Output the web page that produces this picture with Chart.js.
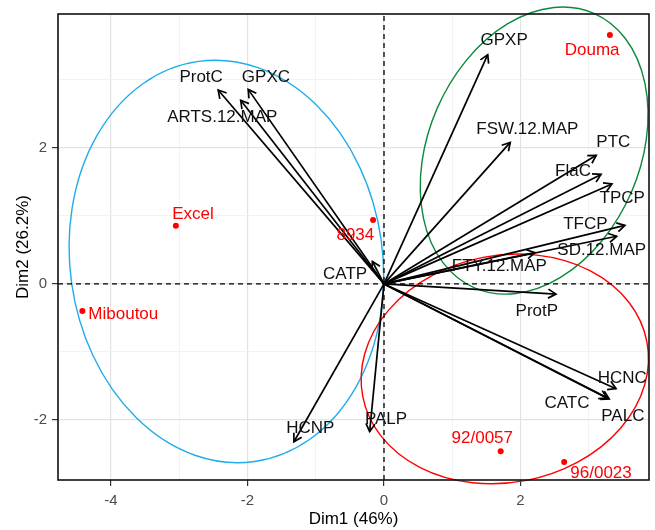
<!DOCTYPE html>
<html lang="en">

<head>
    <meta charset="UTF-8" />
    <title>PCA biplot</title>
    <script src="https://cdn.jsdelivr.net/npm/chart.js@4.4.1/dist/chart.umd.min.js"></script>
    <style>
        body { margin: 0; background: #fff; }
    </style>
</head>

<body>
    <canvas id="biplot" width="655" height="530"></canvas>

    <script>
        // axis limits (Dim1 / Dim2)
        const xMin = -4.777, xMax = 3.883;
        const yMin = -2.883, yMax = 3.968;

        // variables (arrows)
        const varNames = ['ProtC', 'GPXC', 'ARTS.12.MAP', 'CATP', 'GPXP', 'FSW.12.MAP', 'PTC', 'FlaC', 'TPCP',
            'TFCP', 'SD.12.MAP', 'FTY.12.MAP', 'ProtP', 'HCNC', 'CATC', 'PALC', 'PALP', 'HCNP'];
        const varDim1 = [-2.43, -1.99, -2.10, -0.17, 1.52, 1.85, 3.11, 3.18, 3.34, 3.53, 3.41, 2.21, 2.52, 3.40, 3.27, 3.30, -0.21, -1.32];
        const varDim2 = [2.85, 2.86, 2.70, 0.33, 3.37, 2.08, 1.89, 1.61, 1.47, 0.86, 0.70, 0.46, -0.15, -1.54, -1.68, -1.69, -2.17, -2.32];
        // where the (repelled) labels sit
        const varLabDim1 = [-2.68, -1.73, -2.37, -0.57, 1.76, 2.10, 3.36, 2.77, 3.49, 2.95, 3.19, 1.69, 2.24, 3.49, 2.68, 3.50, 0.03, -1.08];
        const varLabDim2 = [3.04, 3.04, 2.45, 0.14, 3.58, 2.27, 2.08, 1.65, 1.26, 0.88, 0.49, 0.26, -0.40, -1.39, -1.75, -1.94, -1.99, -2.13];

        // individuals (red points)
        const indNames = ['Douma', 'Excel', '8934', 'Miboutou', '92/0057', '96/0023'];
        const indDim1 = [3.31, -3.05, -0.16, -4.42, 1.71, 2.64];
        const indDim2 = [3.66, 0.855, 0.94, -0.40, -2.46, -2.62];
        const indLabDim1 = [3.05, -2.80, -0.42, -3.82, 1.44, 3.18];
        const indLabDim2 = [3.43, 1.03, 0.71, -0.44, -2.27, -2.78];

        // group ellipses: centre, semi axes (data units), tilt in degrees
        const ellCx = [-2.31, 2.20, 1.77];
        const ellCy = [0.33, 1.96, -1.25];
        const ellRx = [2.29, 1.55, 2.12];
        const ellRy = [2.97, 2.20, 1.67];
        const ellTilt = [-8, 23.5, -11];
        const ellColors = ['#1FADEB', '#0B8A3A', '#FF0000'];

        const labelFont = '17px "Liberation Sans", Arial, sans-serif';

        // arrow datasets, one per variable
        const arrowSets = varNames.map((name, i) => ({
            label: name,
            data: [{ x: 0, y: 0 }, { x: varDim1[i], y: varDim2[i] }],
            showLine: true,
            borderColor: '#000',
            borderWidth: 1.7,
            pointRadius: 0,
            isArrow: true
        }));

        const biplotPlugin = {
            id: 'biplot',
            beforeDatasetsDraw(chart) {
                const ctx = chart.ctx;
                const xs = chart.scales.x, ys = chart.scales.y;
                ctx.save();
                ctx.lineWidth = 1.4;
                for (let i = 0; i < ellCx.length; i++) {
                    const cx = xs.getPixelForValue(ellCx[i]);
                    const cy = ys.getPixelForValue(ellCy[i]);
                    const rx = xs.getPixelForValue(ellCx[i] + ellRx[i]) - cx;
                    const ry = cy - ys.getPixelForValue(ellCy[i] + ellRy[i]);
                    ctx.beginPath();
                    ctx.ellipse(cx, cy, rx, ry, ellTilt[i] * Math.PI / 180, 0, Math.PI * 2);
                    ctx.strokeStyle = ellColors[i];
                    ctx.stroke();
                }
                ctx.restore();
            },
            afterDatasetsDraw(chart) {
                const ctx = chart.ctx;
                const xs = chart.scales.x, ys = chart.scales.y;
                ctx.save();
                // open arrow heads
                chart.data.datasets.forEach((ds, di) => {
                    if (!ds.isArrow) return;
                    const pts = chart.getDatasetMeta(di).data;
                    const x0 = pts[0].x, y0 = pts[0].y, x1 = pts[1].x, y1 = pts[1].y;
                    const a = Math.atan2(y1 - y0, x1 - x0);
                    const len = 9, spread = Math.PI / 6;
                    ctx.beginPath();
                    ctx.moveTo(x1 - len * Math.cos(a - spread), y1 - len * Math.sin(a - spread));
                    ctx.lineTo(x1, y1);
                    ctx.lineTo(x1 - len * Math.cos(a + spread), y1 - len * Math.sin(a + spread));
                    ctx.strokeStyle = '#000';
                    ctx.lineWidth = 1.7;
                    ctx.stroke();
                });

                // text labels
                ctx.font = labelFont;
                ctx.textAlign = 'center';
                ctx.textBaseline = 'middle';
                ctx.fillStyle = '#111';
                varNames.forEach((n, i) => {
                    ctx.fillText(n, xs.getPixelForValue(varLabDim1[i]), ys.getPixelForValue(varLabDim2[i]));
                });
                ctx.fillStyle = '#FF0000';
                indNames.forEach((n, i) => {
                    ctx.fillText(n, xs.getPixelForValue(indLabDim1[i]), ys.getPixelForValue(indLabDim2[i]));
                });

                // panel border
                const ca = chart.chartArea;
                ctx.strokeStyle = '#111';
                ctx.lineWidth = 1.6;
                ctx.strokeRect(ca.left, ca.top, ca.right - ca.left, ca.bottom - ca.top);
                ctx.restore();
            }
        };

        const gridColor = (c) => (c.tick && c.tick.value % 2 === 0 ? '#E3E3E3' : '#EEEEEE');
        const gridWidth = (c) => (c.tick && c.tick.value % 2 === 0 ? 1.2 : 0.7);
        const tickMarkColor = (c) => (c.tick && c.tick.value % 2 === 0 ? '#333' : 'rgba(0,0,0,0)');

        new Chart(document.getElementById('biplot'), {
            type: 'scatter',
            data: {
                datasets: [
                    {
                        label: 'hline',
                        data: [{ x: xMin, y: 0 }, { x: xMax, y: 0 }],
                        showLine: true, borderColor: '#000', borderWidth: 1.3, borderDash: [5, 4], pointRadius: 0
                    },
                    {
                        label: 'vline',
                        data: [{ x: 0, y: yMin }, { x: 0, y: yMax }],
                        showLine: true, borderColor: '#000', borderWidth: 1.3, borderDash: [5, 4], pointRadius: 0
                    },
                    ...arrowSets,
                    {
                        label: 'individuals',
                        data: indDim1.map((v, i) => ({ x: v, y: indDim2[i] })),
                        pointRadius: 3,
                        pointBackgroundColor: '#FF0000',
                        pointBorderWidth: 0
                    }
                ]
            },
            options: {
                responsive: false,
                animation: false,
                layout: { padding: { top: 9, right: 6, left: 0, bottom: 0 } },
                plugins: { legend: { display: false }, tooltip: { enabled: false } },
                scales: {
                    x: {
                        type: 'linear',
                        min: xMin, max: xMax,
                        afterFit(scale) { scale.height = 50; },
                        border: { display: false },
                        grid: { color: gridColor, lineWidth: gridWidth, tickColor: tickMarkColor, tickLength: 6, tickWidth: 1.2 },
                        ticks: {
                            stepSize: 1, includeBounds: false, autoSkip: false, maxRotation: 0, padding: 6,
                            color: '#4D4D4D', font: { family: '"Liberation Sans", Arial', size: 15 },
                            callback: (v) => (v % 2 === 0 ? String(v) : '')
                        },
                        title: {
                            display: true, text: 'Dim1 (46%)', color: '#000',
                            font: { family: '"Liberation Sans", Arial', size: 17 },
                            padding: { top: 0, bottom: 0 }
                        }
                    },
                    y: {
                        type: 'linear',
                        min: yMin, max: yMax,
                        afterFit(scale) { scale.width = 58; },
                        border: { display: false },
                        grid: { color: gridColor, lineWidth: gridWidth, tickColor: tickMarkColor, tickLength: 6, tickWidth: 1.2 },
                        ticks: {
                            stepSize: 1, includeBounds: false, autoSkip: false, padding: 5,
                            color: '#4D4D4D', font: { family: '"Liberation Sans", Arial', size: 15 },
                            callback: (v) => (v % 2 === 0 ? String(v) : '')
                        },
                        title: {
                            display: true, text: 'Dim2 (26.2%)', color: '#000',
                            font: { family: '"Liberation Sans", Arial', size: 17 },
                            padding: { top: 13, bottom: 0 }
                        }
                    }
                }
            },
            plugins: [biplotPlugin]
        });
    </script>
</body>

</html>
